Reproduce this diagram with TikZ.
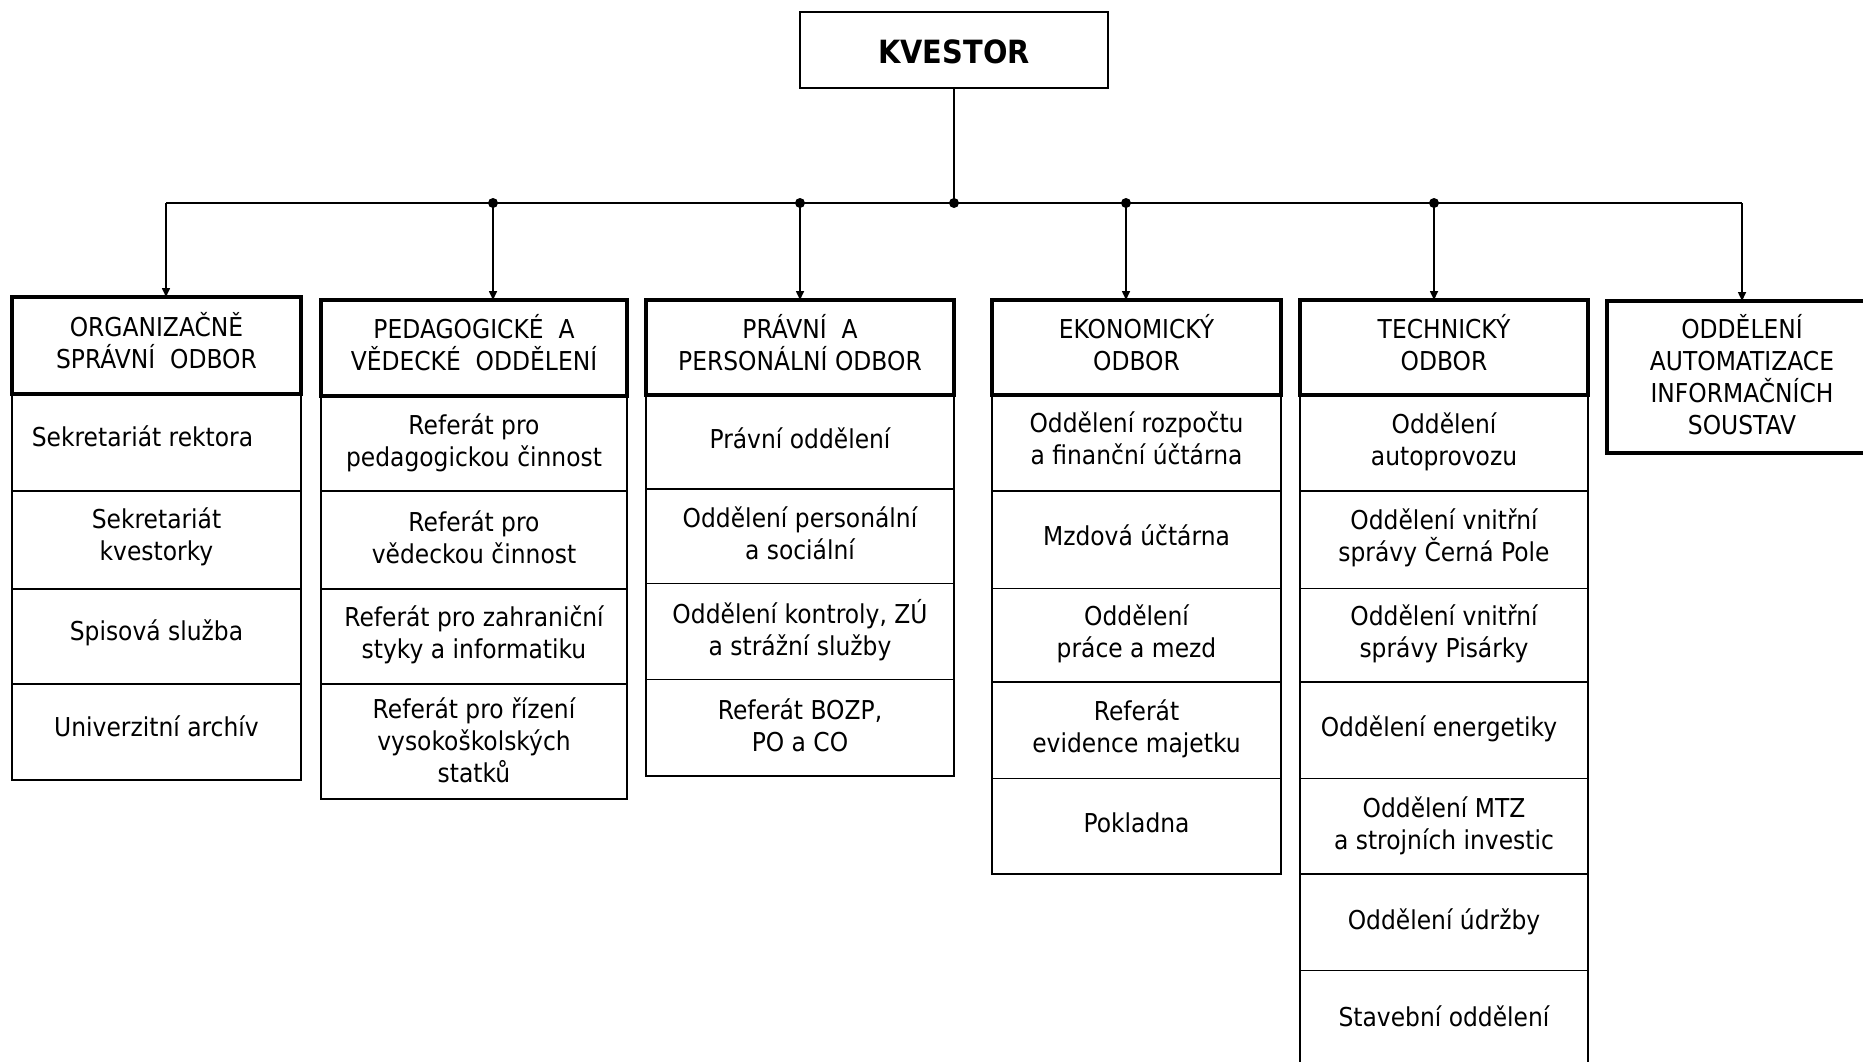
\documentclass[tikz,border=0pt]{standalone}
\usepackage{fontspec}
\setmainfont{DejaVu Sans}[FakeStretch=0.9]
\usetikzlibrary{arrows.meta}
\tikzset{
  cellbox/.style={draw=black, line width=1.9pt, rectangle, inner sep=0pt, outer sep=0pt},
  hdrbox/.style={draw=black, line width=3.6pt, rectangle, inner sep=0pt, outer sep=0pt},
  topbox/.style={draw=black, line width=1.8pt, rectangle, inner sep=0pt, outer sep=0pt},
  celltext/.style={inner sep=0pt, align=center, font=\fontsize{26}{32}\selectfont},
  toptext/.style={inner sep=0pt, align=center, font=\fontsize{32}{38}\selectfont\bfseries},
  barline/.style={line width=2.2pt},
  link/.style={line width=1.6pt},
  arr/.style={line width=1.6pt, -{Triangle[width=8pt,length=9pt]}},
  junction/.style={circle, fill=black, inner sep=0pt, minimum size=10pt}
}
% #1 box style, #2 text style, #3 name, #4-#7 x1,y1,x2,y2, #8 upward text shift, #9 text
\newcommand{\ocell}[9]{%
  \pgfmathsetmacro{\cw}{#6-#4}\pgfmathsetmacro{\ch}{#7-#5}%
  \pgfmathsetmacro{\cx}{(#4+#6)/2}\pgfmathsetmacro{\cy}{(#5+#7)/2}%
  \node[#1, minimum width=\cw pt, minimum height=\ch pt] (#3) at (\cx,\cy) {};
  \node[#2, yshift=#8pt] (#3t) at (#3.center) {#9};}
\begin{document}
\begin{tikzpicture}[x=1pt,y=-1pt]
\useasboundingbox (0,0) rectangle (1863,1062);
\clip (0,0) rectangle (1863,1062);
\fill[white] (0,0) rectangle (1863,1062);

% top
\ocell{topbox}{toptext}{k}{800}{12}{1108}{88}{-2}{KVESTOR}

% column 1
\ocell{cellbox}{celltext}{a1}{12}{394}{301}{491}{6}{\hspace*{-28pt}Sekretariát rektora}
\ocell{cellbox}{celltext}{a2}{12}{491}{301}{589}{3}{Sekretariát\\kvestorky}
\ocell{cellbox}{celltext}{a3}{12}{589}{301}{684}{4}{Spisová služba}
\ocell{cellbox}{celltext}{a4}{12}{684}{301}{780}{6}{Univerzitní archív}
\ocell{hdrbox}{celltext}{h1}{12}{297}{301}{394}{5}{ORGANIZAČNĚ\\SPRÁVNÍ~~ODBOR}

% column 2
\ocell{cellbox}{celltext}{b1}{321}{396}{627}{491}{1}{Referát pro\\pedagogickou činnost}
\ocell{cellbox}{celltext}{b2}{321}{491}{627}{589}{3}{Referát pro\\vědeckou činnost}
\ocell{cellbox}{celltext}{b3}{321}{589}{627}{684}{2}{Referát pro zahraniční\\styky a informatiku}
\ocell{cellbox}{celltext}{b4}{321}{684}{627}{799}{1}{Referát pro řízení\\vysokoškolských\\statků}
\ocell{hdrbox}{celltext}{h2}{321}{300}{627}{396}{5}{PEDAGOGICKÉ~~A\\VĚDECKÉ~~ODDĚLENÍ}

% column 3
\ocell{cellbox}{celltext}{c1}{646}{395}{954}{489}{4}{Právní oddělení}
\ocell{cellbox}{celltext}{c2}{646}{489}{954}{583.5}{3}{Oddělení personální\\a sociální}
\ocell{cellbox}{celltext}{c3}{646}{583.5}{954}{679.5}{1}{Oddělení kontroly, ZÚ\\a strážní služby}
\ocell{cellbox}{celltext}{c4}{646}{679.5}{954}{776}{2}{Referát BOZP,\\PO a CO}
\ocell{hdrbox}{celltext}{h3}{646}{300}{954}{395}{5}{PRÁVNÍ~~A\\PERSONÁLNÍ ODBOR}

% column 4
\ocell{cellbox}{celltext}{d1}{992}{395}{1281}{491}{5}{Oddělení rozpočtu\\a finanční účtárna}
\ocell{cellbox}{celltext}{d2}{992}{491}{1281}{588.5}{4}{Mzdová účtárna}
\ocell{cellbox}{celltext}{d3}{992}{588.5}{1281}{682}{1}{Oddělení\\práce a mezd}
\ocell{cellbox}{celltext}{d4}{992}{682}{1281}{778.5}{1}{Referát\\evidence majetku}
\ocell{cellbox}{celltext}{d5}{992}{778.5}{1281}{874}{3}{Pokladna}
\ocell{hdrbox}{celltext}{h4}{992}{300}{1281}{395}{5}{EKONOMICKÝ\\ODBOR}

% column 5
\ocell{cellbox}{celltext}{e1}{1300}{395}{1588}{491}{1}{Oddělení\\autoprovozu}
\ocell{cellbox}{celltext}{e2}{1300}{491}{1588}{588.5}{2}{Oddělení vnitřní\\správy Černá Pole}
\ocell{cellbox}{celltext}{e3}{1300}{588.5}{1588}{682}{1}{Oddělení vnitřní\\správy Pisárky}
\ocell{cellbox}{celltext}{e4}{1300}{682}{1588}{778.5}{1}{\hspace*{-10pt}Oddělení energetiky}
\ocell{cellbox}{celltext}{e5}{1300}{778.5}{1588}{874}{0}{Oddělení MTZ\\a strojních investic}
\ocell{cellbox}{celltext}{e6}{1300}{874}{1588}{970.5}{0}{Oddělení údržby}
\ocell{cellbox}{celltext}{e7}{1300}{970.5}{1588}{1067}{2}{Stavební oddělení}
\ocell{hdrbox}{celltext}{h5}{1300}{300}{1588}{395}{5}{TECHNICKÝ\\ODBOR}

% column 6
\ocell{hdrbox}{celltext}{h6}{1607}{301}{1877}{453}{2}{ODDĚLENÍ\\AUTOMATIZACE\\INFORMAČNÍCH\\SOUSTAV}

% connectors
\coordinate (j1) at (166,203);
\coordinate (j2) at (493,203);
\coordinate (j3) at (800,203);
\coordinate (j0) at (954,203);
\coordinate (j4) at (1126,203);
\coordinate (j5) at (1434,203);
\coordinate (j6) at (1742,203);
\draw[link] (k.south -| j0) -- (j0);
\draw[barline] (j1) -- (j6);
\draw[arr] (j1) -- (j1 |- h1.north);
\draw[arr] (j2) -- (j2 |- h2.north);
\draw[arr] (j3) -- (j3 |- h3.north);
\draw[arr] (j4) -- (j4 |- h4.north);
\draw[arr] (j5) -- (j5 |- h5.north);
\draw[arr] (j6) -- (j6 |- h6.north);
\node[junction] (d2) at (j2) {};
\node[junction] (d3) at (j3) {};
\node[junction] (d0) at (j0) {};
\node[junction] (d4) at (j4) {};
\node[junction] (d5) at (j5) {};
\end{tikzpicture}
\end{document}
